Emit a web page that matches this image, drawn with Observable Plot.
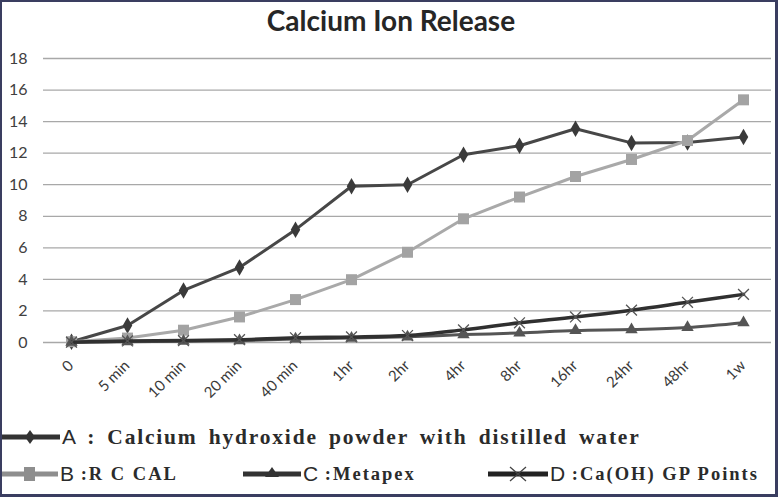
<!DOCTYPE html>
<html><head><meta charset="utf-8">
<script src="https://cdn.jsdelivr.net/npm/d3@7"></script>
<script src="https://cdn.jsdelivr.net/npm/@observablehq/plot@0.6"></script>
<style>
body{margin:0;background:#fff;}
#wrap{position:relative;width:778px;height:497px;overflow:hidden;background:#fff;}
#title{position:absolute;left:2px;top:2px;width:778px;text-align:center;font:bold 28px Lato,sans-serif;line-height:36px;color:#262626;}
#chart{position:absolute;left:0;top:40px;}
#chart svg{overflow:visible;}
#border{position:absolute;left:0;top:0;width:778px;height:497px;box-sizing:border-box;border:solid #3a3d60;border-width:2px 3px 3px 2px;pointer-events:none;}
.leg{position:absolute;display:flex;align-items:center;height:30px;white-space:nowrap;color:#2b2b2b;}
.leg svg{display:block;}
.let{font-family:"Liberation Sans",Arial,sans-serif;font-size:21px;margin-left:2px;}
.lab{font-family:"Liberation Serif","Times New Roman",serif;font-weight:bold;white-space:pre;}
.r1{font-size:21.5px;letter-spacing:1.8px;word-spacing:4px;}
.r2{font-size:18.5px;letter-spacing:2px;}
</style></head>
<body>
<div id="wrap">
  <div id="title">Calcium Ion Release</div>
  <div id="chart"></div>
  <div id="legend"></div>
  <div id="border"></div>
</div>
<script>
const categories = ["0","5 min","10 min","20 min","40 min","1hr","2hr","4hr","8hr","16hr","24hr","48hr","1w"];
const seriesA = [0.05,1.08,3.3,4.75,7.15,9.9,10.0,11.9,12.47,13.55,12.65,12.67,13.02];
const seriesB = [0.05,0.28,0.78,1.62,2.72,3.98,5.72,7.84,9.22,10.52,11.6,12.8,15.38];
const seriesC = [0.02,0.05,0.08,0.12,0.22,0.28,0.36,0.5,0.6,0.76,0.82,0.95,1.25];
const seriesD = [0.02,0.1,0.12,0.18,0.3,0.35,0.44,0.8,1.25,1.62,2.05,2.55,3.05];
const yTicks = [0,2,4,6,8,10,12,14,16,18];
const legendLetters = ["A","B","C","D"];
const legendLabels = [" : Calcium hydroxide powder with distilled water", " :R C CAL", " :Metapex", " :Ca(OH) GP Points"];

const rows = v => categories.map((c,i)=>({cat:c, v:v[i]}));
const A = rows(seriesA), B = rows(seriesB), C = rows(seriesC), D = rows(seriesD);

const chart = Plot.plot({
  width: 778, height: 370,
  marginLeft: 43, marginRight: 7, marginTop: 18, marginBottom: 68,
  style: {background: "transparent"},
  x: {type: "point", domain: categories, padding: 0.5, axis: null},
  y: {domain: [0, 18], axis: null},
  marks: [
    Plot.gridY(yTicks, {stroke: "#a8a8a8", strokeOpacity: 1, strokeWidth: 1.3}),
    Plot.axisY(yTicks, {label: null, tickSize: 0, tickPadding: 16, fontSize: 16, fontFamily: "Lato, sans-serif", fill: "#404040", tickFormat: d => String(d)}),
    Plot.text(categories, {x: d => d, frameAnchor: "bottom", rotate: -45, textAnchor: "end", dx: 3, dy: 24, fontSize: 15, fontFamily: "Lato, sans-serif", fill: "#3a3a3a"}),
    Plot.line(A, {x: "cat", y: "v", stroke: "#474747", strokeWidth: 3}),
    Plot.dot(A, {x: "cat", y: "v", symbol: "diamond", r: 5, fill: "#3a3a3a", stroke: "none"}),
    Plot.line(B, {x: "cat", y: "v", stroke: "#a9a9a9", strokeWidth: 3}),
    Plot.dot(B, {x: "cat", y: "v", symbol: "square", r: 6.2, fill: "#a3a3a3", stroke: "none"}),
    Plot.line(C, {x: "cat", y: "v", stroke: "#555555", strokeWidth: 3, curve: "monotone-x"}),
    Plot.dot(C, {x: "cat", y: "v", symbol: "triangle", r: 4.6, fill: "#555555", stroke: "none"}),
    Plot.line(D, {x: "cat", y: "v", stroke: "#303030", strokeWidth: 3.5, curve: "monotone-x"}),
    Plot.dot(D, {x: "cat", y: "v", symbol: "times", r: 5, stroke: "#555555", strokeWidth: 1.3, fill: "none"})
  ]
});
document.getElementById("chart").appendChild(chart);

// legend
const swatch = (w, kind, color) => {
  const ns = "http://www.w3.org/2000/svg";
  const s = document.createElementNS(ns, "svg");
  s.setAttribute("width", w); s.setAttribute("height", 20);
  const l = document.createElementNS(ns, "line");
  l.setAttribute("x1", 0); l.setAttribute("x2", w); l.setAttribute("y1", 10); l.setAttribute("y2", 10);
  l.setAttribute("stroke", color); l.setAttribute("stroke-width", 5);
  s.appendChild(l);
  const cx = w/2;
  let m;
  if (kind === "diamond") { m = document.createElementNS(ns,"path"); m.setAttribute("d", `M${cx},3L${cx+5},10L${cx},17L${cx-5},10Z`); m.setAttribute("fill", color); }
  if (kind === "square") { m = document.createElementNS(ns,"rect"); m.setAttribute("x", cx-5); m.setAttribute("y", 3); m.setAttribute("width", 11); m.setAttribute("height", 14); m.setAttribute("fill", color); }
  if (kind === "triangle") { m = document.createElementNS(ns,"path"); m.setAttribute("d", `M${cx},3L${cx+7},13L${cx-7},13Z`); m.setAttribute("fill", color); }
  if (kind === "times") { m = document.createElementNS(ns,"path"); m.setAttribute("d", `M${cx-8},3L${cx+8},17M${cx-8},17L${cx+8},3`); m.setAttribute("stroke", "#444"); m.setAttribute("stroke-width", 1.3); }
  s.appendChild(m);
  return s;
};
const legendSpec = [
  {left: 0, top: 422, w: 60, kind: "diamond", color: "#333", cls: "r1"},
  {left: 0, top: 459, w: 58, kind: "square", color: "#8e8e8e", cls: "r2"},
  {left: 243, top: 459, w: 58, kind: "triangle", color: "#333", cls: "r2"},
  {left: 488, top: 459, w: 60, kind: "times", color: "#222", cls: "r2"}
];
const legend = document.getElementById("legend");
legendSpec.forEach((s, i) => {
  const d = document.createElement("div");
  d.className = "leg";
  d.style.left = s.left + "px"; d.style.top = s.top + "px";
  d.appendChild(swatch(s.w, s.kind, s.color));
  const a = document.createElement("span"); a.className = "let"; a.textContent = legendLetters[i];
  const b = document.createElement("span"); b.className = "lab " + s.cls; b.textContent = legendLabels[i];
  d.appendChild(a); d.appendChild(b);
  legend.appendChild(d);
});
</script>
</body></html>
